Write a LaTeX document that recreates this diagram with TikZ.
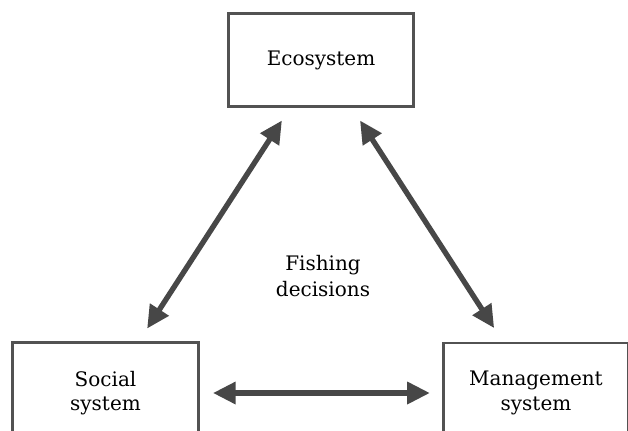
\documentclass[tikz,border=0pt]{standalone}
\usepackage{fontspec}
\setmainfont{DejaVu Serif}
\usepackage{tikz}
\usetikzlibrary{arrows.meta, positioning}

\tikzset{
    sysbox/.style={draw=black!68, line width=2.2pt, fill=white, align=center,
        minimum width=139pt, font=\fontsize{15}{18.5}\selectfont, inner sep=0pt},
    link/.style={line width=4pt, draw=black!72,
        {Triangle[length=17pt,width=16pt]}-{Triangle[length=17pt,width=16pt]}}
}

\begin{document}
\begin{tikzpicture}[x=0.75pt, y=-0.75pt]
    \clip (0,0) rectangle (628,430);

    % the three systems, bottom two run past the lower edge
    \node[sysbox, minimum height=70pt] (eco) at (321,60) {Ecosystem};
    \node[sysbox, minimum height=76pt] (soc) at (105.5,393) {Social\\system};
    \node[sysbox, minimum height=75pt] (man) at (536,393) {Management\\system};

    \node[align=center, font=\fontsize{15}{20}\selectfont] (fish) at (323,276) {Fishing\\decisions};

    % two-way links
    \draw[link, shorten <=11pt, shorten >=11pt] (soc) -- (eco);
    \draw[link, shorten <=11pt, shorten >=12pt] (eco) -- (man);
    \draw[link, shorten <=10pt, shorten >=9pt] (soc) -- (man);
\end{tikzpicture}
\end{document}
